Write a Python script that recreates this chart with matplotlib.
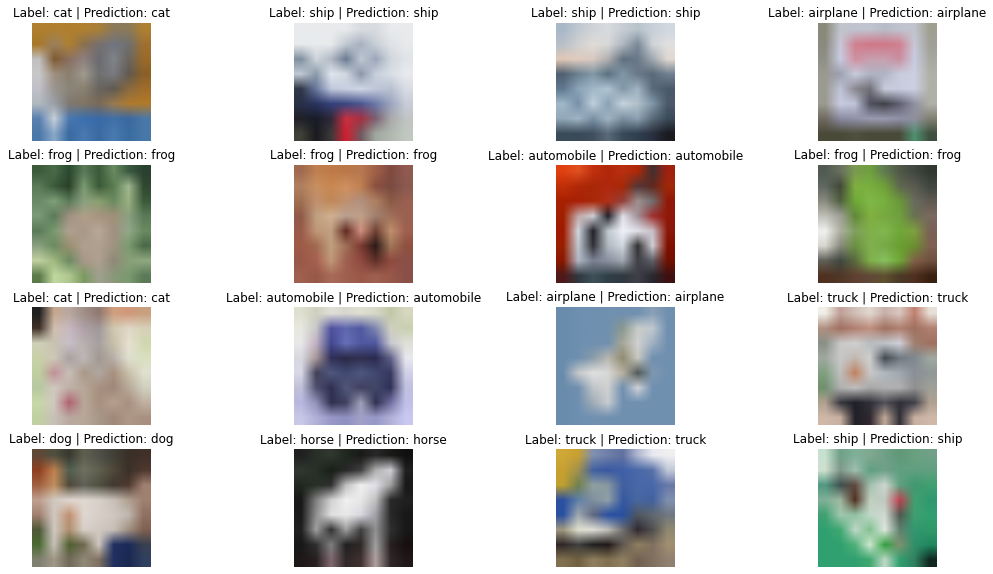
import numpy as np
import matplotlib
matplotlib.use("Agg")
import matplotlib.pyplot as plt
from matplotlib.colors import to_rgb

labels = ["cat", "ship", "ship", "airplane",
          "frog", "frog", "automobile", "frog",
          "cat", "automobile", "airplane", "truck",
          "dog", "horse", "truck", "ship"]
predictions = ["cat", "ship", "ship", "airplane",
               "frog", "frog", "automobile", "frog",
               "cat", "automobile", "airplane", "truck",
               "dog", "horse", "truck", "ship"]

# coarse 8x8 colour approximations of the 32x32 images (rows top to bottom)
img_cat1 = [
    "b08030 b08030 b08030 b08030 a88038 8a7a5a 8a7a5a b08030",
    "a8782a 9a8060 b08030 8a7050 777070 707580 707070 a07030",
    "c0c0c0 805a30 8a7060 908080 6a6a70 80858a 6a6560 9a6a28",
    "c8c8c8 a09080 8a8070 a09a90 707070 7a7a80 605a50 8a6028",
    "c0c0c8 9a9590 8a8578 8a8070 6a6560 605a50 8a6a40 a06e2a",
    "b0b8c0 9aa0a8 807870 807565 786a58 9a7a50 b07a30 b07a2a",
    "5a80b0 c8d0d8 4a78b0 3a70b0 3a6aa8 4070a8 3a68a0 4a78a8",
    "4a78a8 8aa8c8 3a6aa0 4a78b0 3a6aa0 4a7ab0 3a6ca0 4878a8",
]
img_ship1 = [
    "e8eaec e8eaec e8eaec e8eaec d8dce0 d8dce0 e8eaec e8eaec",
    "e8eaec e8eaec e8eaec c0c8d0 a8b0c0 c8d0d8 e0e2e6 e8eaec",
    "8090a0 d0d6dc b0b8c4 6a7a90 c0c8d4 9aa6b8 d0d6dc e0e4e8",
    "c0c8d4 8a9aa8 e0e6ee d0d8e0 8a96a8 c8d0dc d8dee6 e8eaee",
    "303848 6878a0 c0c8dc c8d0e0 d0d8e6 c0c8d8 b8c0d0 d8dce4",
    "283048 2a3460 34407a 3a4680 4a5690 6a78a8 9aa4c0 c8ccd8",
    "202028 181c28 302838 c83040 a83040 7a6070 a8a8a8 c0c4c4",
    "404038 1a1a20 3a3a3a d02030 705860 a0a8a0 b0b8b0 c0c8c0",
]
img_ship2 = [
    "a8b8c8 c0c8d0 d0d4d8 d8dce0 c8ccd4 b8c4cc c8d0d8 d0d8e0",
    "b8c0c8 d0d0d0 e0dcd8 d8d8d8 b0b8c0 7a8a98 d0d4d8 e0e0e0",
    "e0c8b8 e0ccc0 d8c8c0 b0b0b0 607080 6a7888 a0a8b0 e0d8d0",
    "506070 6a8090 8098a8 5a7080 8098a8 6a7888 5a6a78 708090",
    "607890 8ca4b8 a0b8c8 b0c4d4 8098a8 a0b4c4 5a6a7a 4a5a6a",
    "a0b8c8 7890a8 c0d0dc 8aa0b4 c8d4de b0c0cc 8098a8 4a5a68",
    "90a8b8 a0b4c4 7890a4 a0b4c4 7890a0 8ca0b0 5a6a78 3a4a58",
    "3a4a58 3a4a58 405060 5a6a78 3a4a58 304050 2a3040 1a1a20",
]
img_airplane1 = [
    "8a8a78 c0c4cc c0c4d0 c0c4d0 b8bcc8 c0c4d0 c0c4cc a0a090",
    "8a8a80 c8c8d8 d08090 d07888 d07888 d08090 c8c8d8 a0a098",
    "909088 c8cce0 d090a0 c8a0b0 c8a0b0 c890a0 c8cce0 a8a8a0",
    "9a9a90 9ca0b0 c8ccdc b0b4c4 b0b4c4 c8ccdc ccd0e0 b0b0a8",
    "9a9a90 c0c4d8 8a8890 707078 c8ccdc c8cce0 ccd0e0 b0b0a8",
    "9a9a90 c8cce0 c0c4d8 505060 404048 606070 9090a0 b0b0a8",
    "706a60 8a8aa0 9090a8 9a9ab0 9a9ab0 9090a8 9090a0 808070",
    "4a4a38 4a4a38 505040 4a4a38 4a4a3a 4a4a3a 509070 405040",
]
img_frog1 = [
    "3a5a3a 4a6a48 2a4a30 5a7a58 3a5a3a 6a8a60 3a5a40 2a4030",
    "5a7a58 3a5a3a 2a4028 7a9a70 3a5a38 5a7a50 a0b890 304830",
    "6a8a68 80a078 5a7a58 8aa080 8aa070 6a8a60 9ab080 3a5a3a",
    "7a9a78 5a7a58 a09080 b0a088 a89480 a09078 8aa080 5a7a58",
    "5a7a58 7a9a70 b0a090 a89888 b8a898 a09080 90a888 6a8a60",
    "8aa080 6a8a60 9a9070 b0a090 b0a090 a09480 7a9a70 4a6a48",
    "c0d0a0 a0b880 6a8a60 a89888 b0a090 908878 8aa078 90a880",
    "5a7a48 c0d8a0 b0c890 7a9a60 a0a090 8a9878 7a9a70 5a7a58",
]
img_frog2 = [
    "a06a50 c08050 c07a48 b87848 b87850 a06048 804a40 905a50",
    "b08060 c89060 c88850 d09060 c08050 8a5040 7a4a40 8a5a50",
    "a07050 c09070 c08858 c09070 b09080 b08060 8a5a48 9a6050",
    "905a48 c0a080 d0b090 b8a090 c0a088 a08070 a07058 9a6050",
    "9a5a48 c09878 c0a080 602820 d09080 704030 c09070 a06050",
    "a05a48 a06a50 c0a080 a07058 7a3a30 2a1a18 a07858 905040",
    "985848 a86050 c09878 a06050 904a40 603028 904a40 8a5048",
    "a06050 985848 a86a58 a06050 9a5848 a06050 985848 8a5048",
]
img_automobile1 = [
    "e04010 e05020 c03010 b02808 b83010 b02808 403030 a02010",
    "c03008 b02808 a82808 b02810 a82808 503838 602820 a02808",
    "a82000 a82008 a82808 b03018 904038 a09090 707070 901808",
    "a02000 c0a8a8 d0d0d8 202028 e0e0e8 a09098 a03030 901808",
    "a01800 d0d8e0 202028 c0c8d0 f0f0f8 e0e0e8 c8c0c8 8a1808",
    "982000 c0c8d0 303038 b0b8c0 d0d8e0 303030 d0d0d8 801000",
    "8a1800 b0b8c8 7a8090 8a90a0 a0a8b0 404048 606068 701000",
    "501818 303840 405058 304048 303840 404048 282830 401010",
]
img_frog3 = [
    "505a50 6a7060 7a9a50 70a040 607a50 505848 404840 303830",
    "606860 404838 80b040 78b040 70a038 606850 5a5a50 404840",
    "8a8a80 506040 70a838 80b848 78b040 6a9838 6a6a60 605a50",
    "c0c0b8 a0a098 608838 80b040 78a840 70a040 6a7050 7a6a60",
    "f0f0f0 b0b0a0 80a060 80b048 80b850 70a838 80a040 7a6058",
    "d8d8d0 8a8a80 6a9040 80b050 78a848 68a030 6a9030 806050",
    "606058 404840 5a6a40 80b048 88c060 70a838 806048 705040",
    "503020 503828 604030 604838 605030 4a3a28 503020 3a2010",
]
img_cat2 = [
    "202020 c8a890 b8a8a0 a09088 907870 d0a080 d09878 c8a080",
    "403028 d0c0b0 c8b8c0 b0a0a8 a09898 d0c8b0 e0d8c8 d8d0b8",
    "d0d0b8 c8c0b0 c8c0c8 b8b0b0 a8a0a0 c8c0a8 e8e0d0 d0d8b0",
    "c8d0a8 d0c8b8 a8a0a0 c0b8b8 a09890 b8b0a8 e0e0d0 d8e0c0",
    "c0d0a0 c09098 c8c0b8 a89888 b0a8a0 a89080 c8c0a8 e0e0d0",
    "b8c8a0 d0c8c0 c0b0a8 b8a898 a89080 a08878 b8a898 d0d0c0",
    "c8d8a8 d0c8c0 b06070 b8a898 a89080 b8a090 a89080 c0b0a0",
    "c0d0a0 c8c0b8 b8a8a0 b8a898 a89888 a08878 b09888 a89080",
]
img_automobile2 = [
    "e0e0d0 d0d0c0 e0e0d8 d8d8d0 e0e0d0 d8d8c8 c0c8a8 d8d8c0",
    "e8e8e0 c8c8c8 5050a0 6068b0 5058a0 8088b0 d0d0c0 c8d0b0",
    "e8e8e8 c0b0c0 404890 6870b8 5058a0 5058a0 c8c8d0 e0e0d8",
    "d8d8e0 a89898 303058 2a2a48 303050 2a2a50 606088 e8e8f0",
    "d8d8e8 404058 505880 404870 505880 404870 383860 d0d0e8",
    "c0c0d8 505070 303050 505878 404060 404868 303058 c0c0e0",
    "b8b8e0 9090b8 303050 404060 a0a0b8 303050 7070a0 c0c0e8",
    "c8c8e8 b0b0d8 9898c8 9090c0 a0a0c8 9898c8 b0b0d8 c8c8f0",
]
img_airplane2 = [
    "6a8cac 6e90b0 7090b0 7090b0 7090b0 7090b0 8aa0b8 7090b0",
    "6a8cac 6e90b0 7090b0 7090b0 8a9890 c8ccc8 c0c8d0 7090b0",
    "6a8cac 6e90b0 7090b0 7090b0 a8a898 d0d0d0 a0b0c0 7090b0",
    "6a8cac 6e90b0 8a9ca8 b8b8b0 908a70 c8c8c0 7090b0 7090b0",
    "6a8cac c8c8c8 e0e0e0 d8d8d8 b8b0a0 505858 8098b0 7090b0",
    "6a8cac 7090b0 c0c4c8 d0d0d0 7090b0 d0d4d8 7090b0 7090b0",
    "6a8cac 6e90b0 a0acb8 c8ccd0 7090b0 7090b0 7090b0 7090b0",
    "6a8cac 6e90b0 7090b0 7090b0 7090b0 7090b0 7090b0 7090b0",
]
img_truck1 = [
    "f0f0e8 c0a098 d0c0b8 e0d8d0 c8b0a8 d8c8c0 c08070 e8e0d8",
    "b09080 a07060 b08070 c09080 a07060 b08070 a07060 b08070",
    "8a9088 c8c8c8 d0d0d0 b8bcc0 c0c4c8 d0d0d8 a08070 a07060",
    "a0a8a0 c8c8c8 c0b8b0 d0d0d0 404850 707880 808890 a0a8a0",
    "80a080 c0c0c0 c08060 c8c8c8 b0b8c0 a0a8b0 8a9098 909898",
    "709070 b0b0b0 c0c0c0 a8a8a8 b0b0b0 b0b0b0 909090 a0a098",
    "b0a090 383840 202028 303038 505058 303038 404048 b0a090",
    "d0b8a8 c8b0a0 202028 302830 c0a898 303038 c8b0a0 d0b8a8",
]
img_dog = [
    "604838 505040 3a3830 606050 505048 404038 3a3028 403028",
    "904020 c08050 506050 707060 606050 504838 3a3028 503830",
    "a06040 c09060 504838 606058 505040 403830 503830 a08070",
    "c0a090 d0c8c0 e0d8d0 e0d8d0 d8d0c8 c8c0b8 b0a090 a08070",
    "a08070 d0c8c0 c09070 e0d8d0 d8d0c8 d0c8c0 c0b8b0 907060",
    "505838 d0c8c0 b09070 d8d0c8 d0c8c0 c8c0b8 a09080 806050",
    "4a6a30 c8c0b8 506030 706850 d0c8c0 203060 1a2a58 3a4050",
    "808070 a09888 706858 908878 807060 203060 1a2850 304060",
]
img_horse = [
    "202020 283028 303830 202820 1a1a18 282828 1a1a18 101010",
    "303830 283028 182018 282828 404040 b0b0b0 d0d0d8 202020",
    "202820 283028 303030 c0c0c0 f0f0f0 e0e0e8 a0a0a0 181818",
    "181818 808080 d0d0d0 f0f0f0 e8e8e8 c0c0c0 282828 202020",
    "1a1a1a 909090 e0e0e0 e8e8e8 d8d8e0 a0a0a8 282828 181818",
    "202020 a0a0a0 303030 a0a0a0 404040 909090 303030 181818",
    "181818 303030 808080 202020 302828 a0a0a0 282020 181010",
    "201818 282020 806870 302828 403030 b0a0a0 302828 201818",
]
img_truck2 = [
    "d0a838 c8a030 8090b0 7080a8 6070a0 b0b8d0 e8e8f0 f0f0f0",
    "c8a030 a09050 4060a0 3858a0 4060a8 4868a8 5870a8 c0c8d8",
    "c0a030 708050 90a0a0 8898a0 4060a0 4868a8 4868a8 6878a8",
    "2a50a0 6080a8 8090a0 90a0a8 3858a0 4868a0 4060a0 8090b0",
    "2a50a0 a0a8b0 606880 2850a0 2850a0 505860 606870 707880",
    "a09880 e0e0d0 e0e0d8 c0c0b8 707070 302830 505050 908870",
    "302828 404040 202020 201818 605850 908060 807060 a09070",
    "807050 706040 908060 807050 908060 706050 807060 908070",
]
img_ship3 = [
    "c8e0d0 70a088 80b098 80a890 70a088 609878 6aa080 70a088",
    "d0e0d0 809888 a0c0b0 60a080 70a088 60a080 60a080 60a080",
    "509880 405050 604840 a0c0b0 d0d8d0 60a080 409870 40a070",
    "80b098 a0b8a0 503020 c0d0c0 c0c8c0 c04050 40a070 309870",
    "40a070 a0c8b0 90c0a0 c0d8c8 d0d8d0 505850 40a070 30a070",
    "30a070 40a870 c0d8c8 80c090 e0e8e0 608070 309870 309868",
    "30a070 30a070 50b078 d0e8d0 30a040 809070 309068 208860",
    "30a070 30a070 30a070 40a870 c0d8c8 30a070 308060 102820",
]

images = [img_cat1, img_ship1, img_ship2, img_airplane1,
          img_frog1, img_frog2, img_automobile1, img_frog3,
          img_cat2, img_automobile2, img_airplane2, img_truck1,
          img_dog, img_horse, img_truck2, img_ship3]


def to_array(rows):
    return np.array([[to_rgb("#" + c) for c in r.split()] for r in rows])


W, H = 993, 574
fig = plt.figure(figsize=(W / 100, H / 100), dpi=100)
fig.patch.set_facecolor("white")

col_left = [32, 294, 556, 818]
row_top = [22.7, 165, 307, 449]
size_w, size_h = 119, 118.3

for i, (img, lab, pred) in enumerate(zip(images, labels, predictions)):
    r, c = divmod(i, 4)
    x0 = col_left[c]
    y0 = row_top[r]
    ax = fig.add_axes([x0 / W, 1 - (y0 + size_h) / H, size_w / W, size_h / H])
    ax.imshow(to_array(img), interpolation="bilinear", aspect="auto")
    ax.set_title(f"Label: {lab} | Prediction: {pred}", fontsize=8.64, pad=4.32,
                 color="black")
    ax.axis("off")

fig.savefig("out.png", dpi=100, facecolor="white")
